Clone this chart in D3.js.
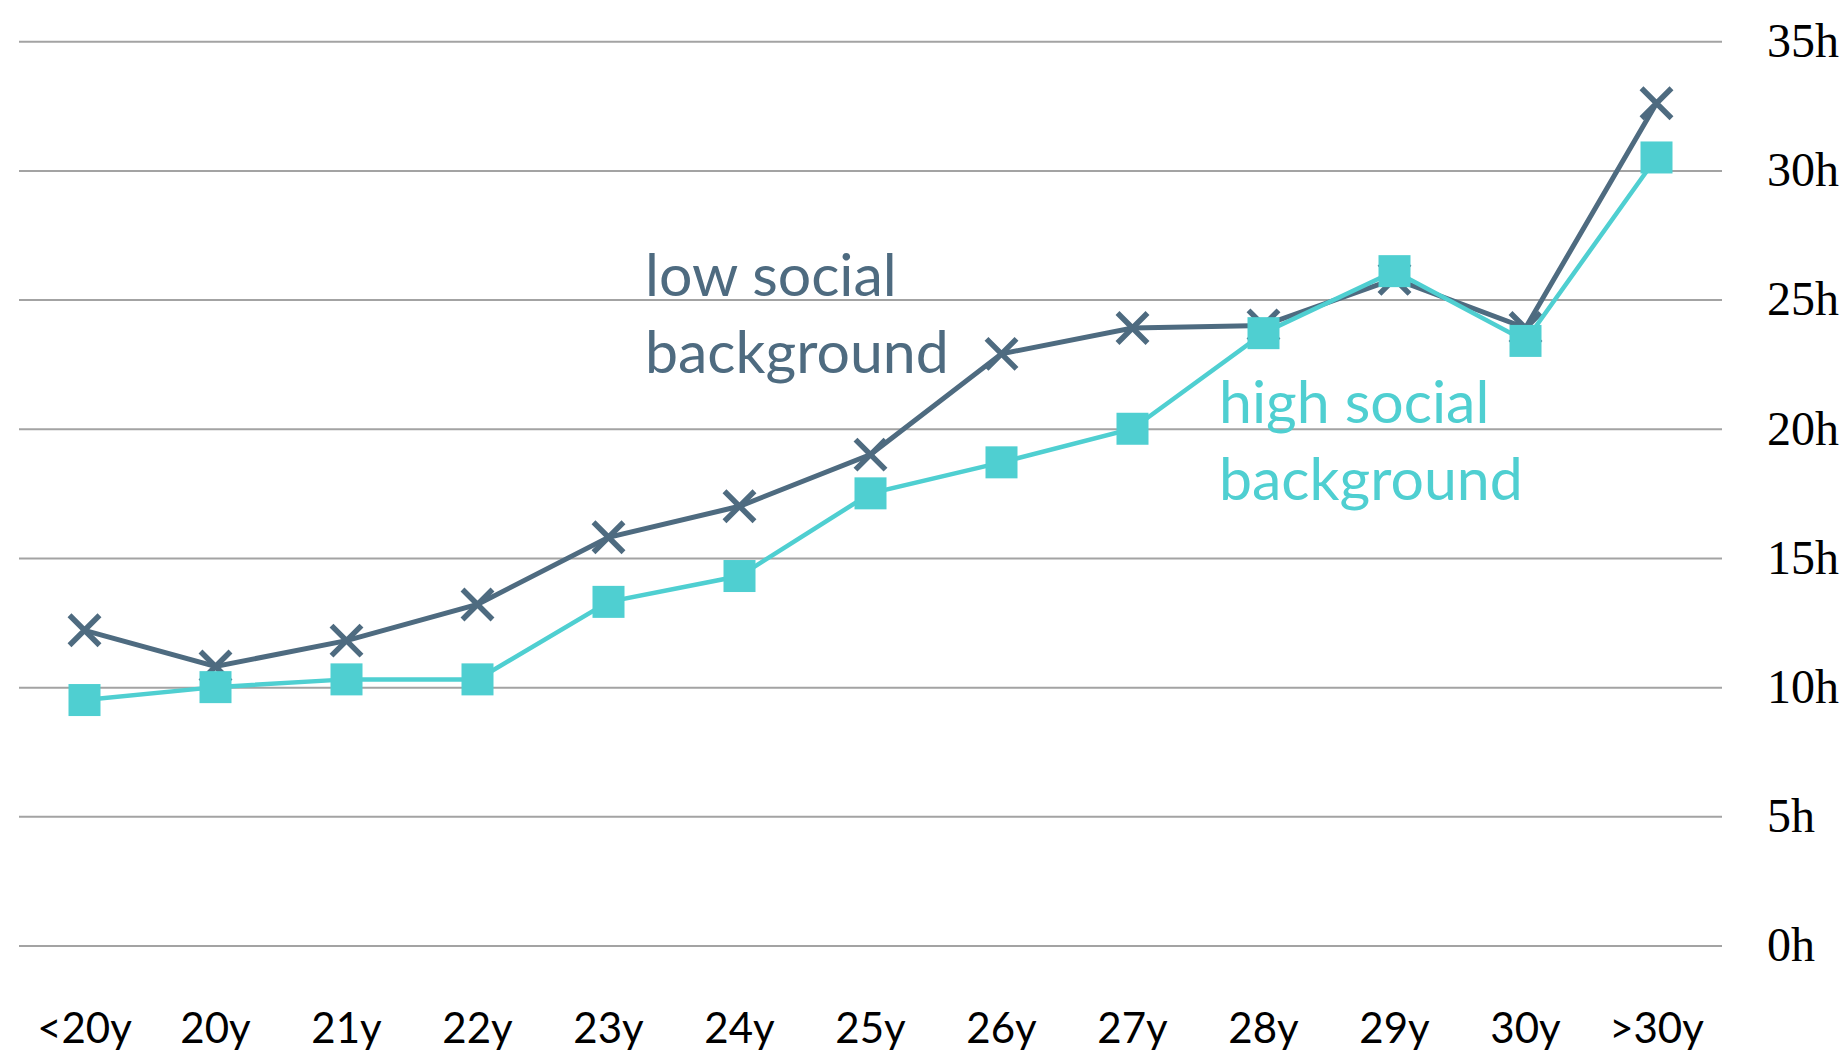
<!DOCTYPE html>
<html>
<head>
<meta charset="utf-8">
<script src="https://cdn.jsdelivr.net/npm/d3@7"></script>
<style>
  body { margin: 0; background: #fff; }
  svg { display: block; }
</style>
</head>
<body>
<svg width="1847" height="1061"></svg>
<script>
// data
const ageGroups = ["<20y", "20y", "21y", "22y", "23y", "24y", "25y", "26y", "27y", "28y", "29y", "30y", ">30y"];
const lowSocial = [12.2, 10.8, 11.8, 13.2, 15.8, 17.0, 19.0, 22.9, 23.9, 24.0, 25.8, 23.9, 32.6];
const highSocial = [9.5, 10.0, 10.3, 10.3, 13.3, 14.3, 17.5, 18.7, 20.0, 23.7, 26.1, 23.4, 30.5];
const hourTicks = [0, 5, 10, 15, 20, 25, 30, 35];

var lowColor = "#4e6b80";
var highColor = "#4fcfd1";

var plotLeft = 19, plotRight = 1722;   // gridlines span this
var plotTop = 41.2, plotBottom = 945.5;

var svg = d3.select("svg");

var x = d3.scaleBand()
    .domain(ageGroups)
    .range([plotLeft, plotRight]);

var y = d3.scaleLinear()
    .domain([0, 35])
    .range([plotBottom, plotTop]);

var cx = d => x(d) + x.bandwidth() / 2;

// gridlines + hour labels on the right
var yAxis = svg.append("g")
    .attr("transform", "translate(" + plotLeft + ",0)")
    .call(d3.axisRight(y)
        .tickValues(hourTicks)
        .tickSize(plotRight - plotLeft)
        .tickPadding(45)
        .tickFormat(d => d + "h"));
yAxis.select(".domain").remove();
yAxis.selectAll("line")
    .attr("stroke", "#a3a3a3")
    .attr("stroke-width", 2);
yAxis.selectAll("text")
    .attr("fill", "#000")
    .style("font-family", "'Liberation Serif', 'DejaVu Serif', serif")
    .style("font-size", "48px");

// age labels at the bottom
var xAxis = svg.append("g")
    .attr("transform", "translate(0," + plotBottom + ")")
    .call(d3.axisBottom(x).tickSize(0));
xAxis.select(".domain").remove();
xAxis.selectAll("text")
    .attr("y", 97)
    .attr("dy", 0)
    .attr("fill", "#000")
    .style("font-family", "Lato, 'Open Sans', sans-serif")
    .style("font-size", "42px");

var line = d3.line()
    .x((d, i) => cx(ageGroups[i]))
    .y(d => y(d));

// low social background: line with x markers
svg.append("path")
    .datum(lowSocial)
    .attr("d", line)
    .attr("fill", "none")
    .attr("stroke", lowColor)
    .attr("stroke-width", 5);

svg.selectAll(".xmark")
    .data(lowSocial)
    .enter()
    .append("path")
    .attr("class", "xmark")
    .attr("transform", (d, i) => "translate(" + cx(ageGroups[i]) + "," + y(d) + ")")
    .attr("d", "M-15,-15L15,15M-15,15L15,-15")
    .attr("stroke", lowColor)
    .attr("stroke-width", 5.5)
    .attr("fill", "none");

// high social background: line with square markers
svg.append("path")
    .datum(highSocial)
    .attr("d", line)
    .attr("fill", "none")
    .attr("stroke", highColor)
    .attr("stroke-width", 4.5);

var sq = 32;
svg.selectAll(".sq")
    .data(highSocial)
    .enter()
    .append("rect")
    .attr("class", "sq")
    .attr("x", (d, i) => cx(ageGroups[i]) - sq / 2)
    .attr("y", d => y(d) - sq / 2)
    .attr("width", sq)
    .attr("height", sq)
    .attr("fill", highColor);

// series labels
function label(lines, xPos, yPos, color) {
    var t = svg.append("text")
        .attr("x", xPos)
        .attr("y", yPos)
        .attr("fill", color)
        .style("font-family", "Lato, 'Open Sans', sans-serif")
        .style("font-size", "59px");
    lines.forEach((s, i) => {
        t.append("tspan")
            .attr("x", xPos)
            .attr("dy", i == 0 ? 0 : 77)
            .text(s);
    });
}
label(["low social", "background"], 645, 296, lowColor);
label(["high social", "background"], 1219, 423, highColor);
</script>
</body>
</html>
